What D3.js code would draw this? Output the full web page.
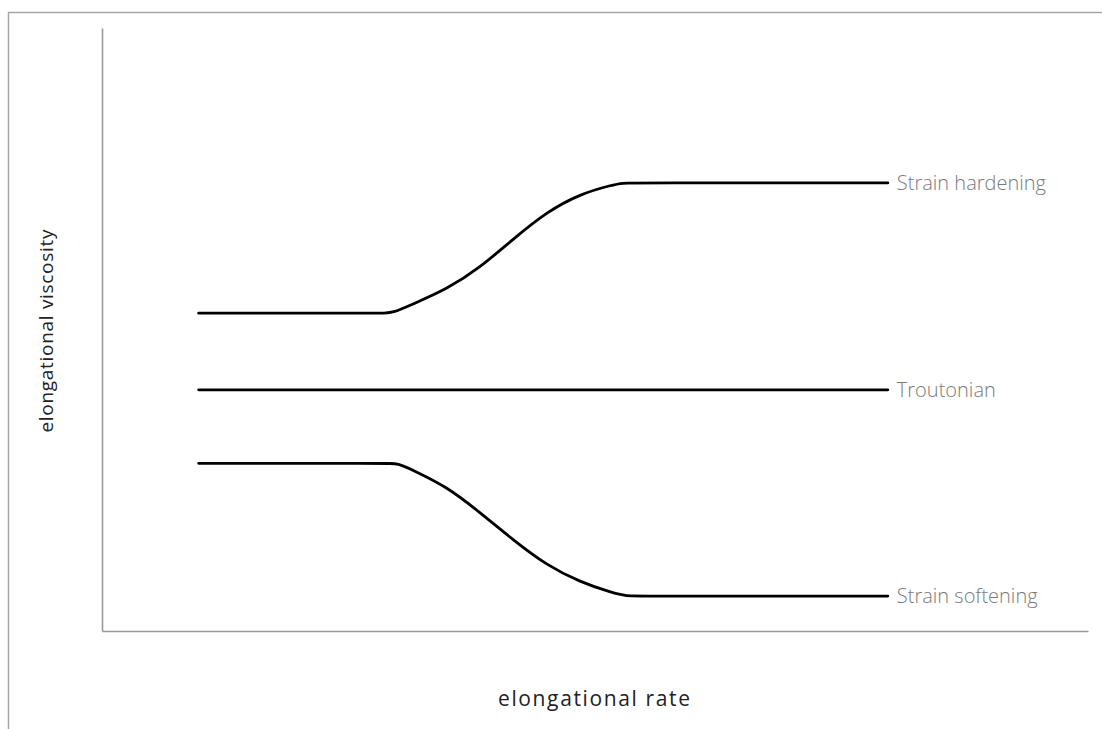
<!DOCTYPE html>
<html>
<head>
<meta charset="utf-8">
<script src="https://cdn.jsdelivr.net/npm/d3@7"></script>
<style>
  html, body { margin: 0; padding: 0; background: #fff; }
  svg { display: block; }
</style>
</head>
<body>
<svg id="chart" width="1102" height="729"></svg>
<script>
// ---- data (abstract units: x 0..100 elongational rate, y 0..100 viscosity) ----
const seriesNames = ["Strain hardening", "Troutonian", "Strain softening"];
const hardeningX = [9.8, 28.5, 29.4, 31.5, 35.0, 38.3, 41.7, 45.1, 48.5, 51.8, 52.8, 54.0, 79.7];
const hardeningY = [52.7, 52.7, 52.7, 54.2, 56.7, 60.2, 65.0, 69.5, 72.5, 74.0, 74.3, 74.3, 74.3];
const troutonianX = [9.8, 79.7];
const troutonianY = [40.0, 40.0];
const softeningX = [9.8, 29.0, 30.0, 31.5, 35.0, 38.3, 41.7, 45.1, 48.5, 51.8, 53.2, 54.5, 79.7];
const softeningY = [27.8, 27.8, 27.8, 26.7, 23.9, 19.7, 15.1, 10.9, 8.1, 6.3, 5.8, 5.8, 5.8];
const xTitle = "elongational rate";
const yTitle = "elongational viscosity";

const svg = d3.select("#chart");
const W = 1102, H = 729;
const plot = { left: 102, right: 1088, top: 28, bottom: 631 };

// outer frame (top + left only visible)
svg.append("path")
  .attr("d", `M8.5,${H} V12.5 H${W}`)
  .attr("fill", "none").attr("stroke", "#a6a6a6").attr("stroke-width", 1.5);

const x = d3.scaleLinear().domain([0, 100]).range([plot.left, plot.right]);
const y = d3.scaleLinear().domain([0, 100]).range([plot.bottom, plot.top]);

// axes (lines only, no ticks)
const xAxis = svg.append("g").attr("transform", `translate(0,${plot.bottom})`)
  .call(d3.axisBottom(x).tickValues([]).tickSizeOuter(0));
const yAxis = svg.append("g").attr("transform", `translate(${plot.left},0)`)
  .call(d3.axisLeft(y).tickValues([]).tickSizeOuter(0));
[xAxis, yAxis].forEach(g => g.select(".domain").attr("stroke", "#999").attr("stroke-width", 1.6));

const series = [
  { name: seriesNames[0], xs: hardeningX, ys: hardeningY },
  { name: seriesNames[1], xs: troutonianX, ys: troutonianY },
  { name: seriesNames[2], xs: softeningX, ys: softeningY }
];

const line = d3.line().x(d => x(d[0])).y(d => y(d[1])).curve(d3.curveBasis);

series.forEach(s => {
  const pts = s.xs.map((v, i) => [v, s.ys[i]]);
  svg.append("path").datum(pts)
    .attr("d", line)
    .attr("fill", "none").attr("stroke", "#000").attr("stroke-width", 2.8)
    .attr("stroke-linecap", "round").attr("stroke-linejoin", "round");
  const last = pts[pts.length - 1];
  svg.append("text")
    .attr("x", x(last[0]) + 9)
    .attr("y", y(last[1]))
    .attr("dy", "0.35em")
    .attr("font-family", "'Open Sans', 'Noto Sans', sans-serif")
    .attr("font-weight", 300)
    .attr("font-size", 20)
    .attr("fill", "#7a7a7a")
    .text(s.name);
});

svg.append("text")
  .attr("x", 594).attr("y", 706)
  .attr("text-anchor", "middle")
  .attr("font-family", "'Open Sans', 'Noto Sans', sans-serif")
  .attr("font-size", 21).attr("fill", "#222")
  .attr("textLength", 192).attr("lengthAdjust", "spacing")
  .text(xTitle);

svg.append("text")
  .attr("transform", `translate(53,331) rotate(-90)`)
  .attr("text-anchor", "middle")
  .attr("font-family", "'Open Sans', 'Noto Sans', sans-serif")
  .attr("font-size", 19).attr("fill", "#222")
  .attr("textLength", 203).attr("lengthAdjust", "spacing")
  .text(yTitle);
</script>
</body>
</html>
